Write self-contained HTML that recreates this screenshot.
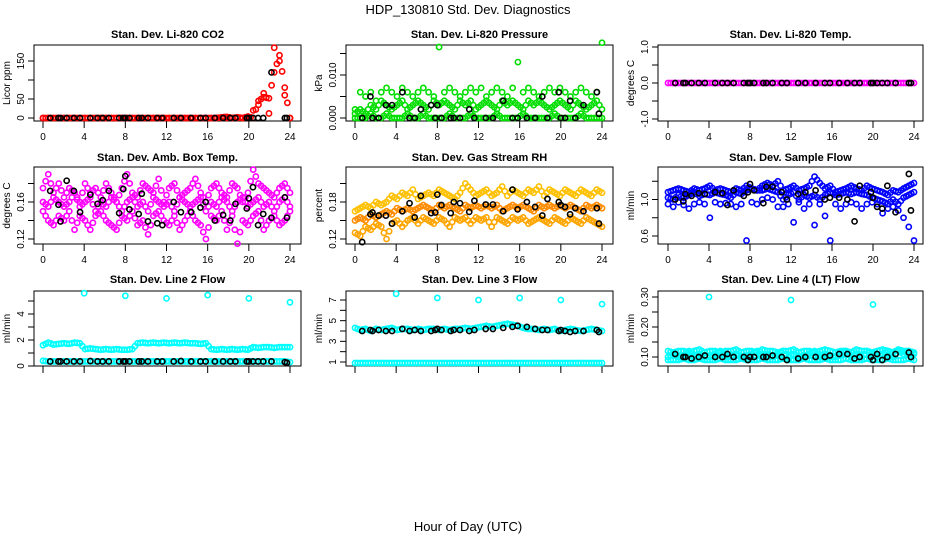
<!DOCTYPE html>
<html><head><meta charset="utf-8">
<style>
html,body{margin:0;padding:0;background:#fff;}
svg{display:block;font-family:"Liberation Sans",sans-serif;}
</style></head>
<body>
<svg id="chart" width="936" height="540" xmlns="http://www.w3.org/2000/svg">
<text x="468" y="14" text-anchor="middle" font-size="13">HDP_130810  Std. Dev. Diagnostics</text>
<text x="468" y="531" text-anchor="middle" font-size="13">Hour of Day (UTC)</text>
</svg>
<script>
// ---- data ----
const xTicks = [0,4,8,12,16,20,24];
const blackHours = [0.7,1.5,1.7,2.3,3,3.6,4.6,5.3,5.8,6.4,7.4,7.8,8,8.4,9.3,9.6,10.2,11.1,11.6,12.7,13.4,14.4,15.3,15.8,16.7,17.5,18.2,18.7,19.8,20,20.4,20.9,21.4,22.2,23.5,23.7];

// Panel 1 CO2
const co2Red = [0,0,0,0,0,0,0,0,0,0,0,0,0,0,0,0,0,0,0,0,0,0,0,0,0,0,0,0,0,0,0,0,0,0,2,3,0,2,0,4,0,45,55,52,120,165,80,0];
const co2RedB = [0,0,0,0,0,0,0,0,0,0,0,0,0,0,0,0,0,0,0,0,0,0,0,0,0,0,0,0,0,0,0,0,0,0,0,0,0,0,0,0,20,35,65,12,185,150,60,0];
const co2Black = [0,0,0,0,0,0,0,0,0,0,0,0,0,0,0,0,0,0,0,0,0,0,0,0,0,0,0,0,0,0,0,0,0,120,0,0];
// Panel 2 Pressure
const presHi = [0.002,0.006,0.005,0.006,0.004,0.006,0.007,0.006,0.005,0.007,0.006,0.005,0.006,0.007,0.006,0.005,0.0165,0.006,0.007,0.006,0.005,0.006,0.007,0.006,0.007,0.005,0.006,0.007,0.006,0.005,0.007,0.013,0.006,0.007,0.006,0.005,0.006,0.007,0.006,0.007,0.006,0.005,0.006,0.007,0.006,0.005,0.006,0.0175];
const presMid = [0.001,0.002,0.001,0.003,0.002,0.004,0.003,0.002,0.003,0.004,0.002,0.003,0.004,0.003,0.002,0.004,0.003,0.004,0.003,0.002,0.004,0.003,0.004,0.002,0.003,0.004,0.003,0.002,0.004,0.003,0.004,0.003,0.002,0.004,0.003,0.004,0.003,0.002,0.003,0.004,0.003,0.002,0.004,0.003,0.002,0.003,0.004,0.002];
const presLo = [0,0,0,0.001,0,0,0.001,0,0,0,0.001,0,0,0.001,0,0,0,0,0.001,0,0,0,0.001,0,0,0,0,0.001,0,0,0,0,0.001,0,0,0,0,0,0.001,0,0,0,0,0.001,0,0,0,0];
const presBlack = [0,0.005,0,0,0.003,0.003,0.006,0,0,0.002,0.003,0,0.003,0,0,0,0,0.002,0,0,0,0.004,0,0,0,0,0.005,0,0.006,0,0,0.004,0,0.003,0.006,0.001];
// Panel 3 Temp
const tempMag = [0,0,0,0,0,0,0,0,0,0,0,0,0,0,0,0,0,0,0,0,0,0,0,0,0,0,0,0,0,0,0,0,0,0,0,0,0,0,0,0,0,0,0,0,0,0,0,0];
const tempBlack = [0,0,0,0,0,0,0,0,0,0,0,0,0,0,0,0,0,0,0,0,0,0,0,0,0,0,0,0,0,0,0,0,0,0,0,0];
// Panel 4 Amb box temp
const ambHi = [0.175,0.19,0.17,0.18,0.165,0.175,0.17,0.16,0.18,0.17,0.175,0.165,0.18,0.17,0.16,0.175,0.19,0.17,0.165,0.18,0.175,0.17,0.185,0.16,0.175,0.18,0.165,0.17,0.175,0.185,0.17,0.16,0.175,0.18,0.17,0.165,0.18,0.175,0.16,0.17,0.195,0.18,0.175,0.17,0.165,0.175,0.18,0.17];
const ambMid = [0.16,0.155,0.165,0.16,0.155,0.16,0.17,0.155,0.16,0.165,0.15,0.16,0.155,0.165,0.16,0.15,0.16,0.165,0.155,0.16,0.15,0.165,0.16,0.155,0.16,0.15,0.165,0.16,0.155,0.16,0.165,0.15,0.16,0.155,0.165,0.16,0.15,0.16,0.165,0.155,0.16,0.165,0.155,0.16,0.15,0.16,0.165,0.155];
const ambLo = [0.15,0.14,0.135,0.145,0.14,0.15,0.13,0.145,0.14,0.13,0.145,0.15,0.14,0.135,0.13,0.145,0.14,0.15,0.135,0.14,0.125,0.145,0.15,0.14,0.135,0.145,0.13,0.14,0.15,0.14,0.135,0.12,0.145,0.14,0.15,0.13,0.145,0.115,0.14,0.135,0.145,0.15,0.13,0.14,0.145,0.135,0.14,0.15];
const ambBlack = [0.172,0.157,0.139,0.183,0.172,0.149,0.168,0.158,0.162,0.172,0.148,0.174,0.188,0.152,0.147,0.169,0.139,0.137,0.135,0.16,0.149,0.149,0.154,0.16,0.14,0.146,0.14,0.158,0.153,0.164,0.176,0.135,0.147,0.143,0.165,0.143];
// Panel 5 Gas stream RH
const rhHi = [0.165,0.17,0.175,0.17,0.18,0.175,0.18,0.19,0.185,0.195,0.19,0.2,0.185,0.19,0.195,0.19,0.2,0.195,0.19,0.185,0.195,0.21,0.2,0.19,0.195,0.2,0.19,0.195,0.205,0.19,0.2,0.195,0.19,0.2,0.195,0.205,0.19,0.2,0.195,0.19,0.2,0.195,0.19,0.2,0.195,0.19,0.2,0.195];
const rhMid = [0.15,0.155,0.15,0.16,0.155,0.16,0.165,0.16,0.17,0.165,0.17,0.165,0.17,0.175,0.17,0.165,0.175,0.17,0.175,0.17,0.165,0.175,0.17,0.175,0.17,0.175,0.17,0.175,0.165,0.17,0.175,0.17,0.175,0.17,0.165,0.175,0.17,0.175,0.17,0.175,0.17,0.175,0.17,0.165,0.175,0.17,0.175,0.17];
const rhLo = [0.13,0.125,0.14,0.135,0.145,0.14,0.12,0.145,0.15,0.14,0.15,0.155,0.145,0.155,0.15,0.145,0.155,0.15,0.14,0.155,0.15,0.155,0.145,0.155,0.15,0.155,0.14,0.155,0.15,0.145,0.155,0.15,0.155,0.145,0.15,0.155,0.15,0.145,0.155,0.15,0.145,0.155,0.15,0.145,0.155,0.15,0.145,0.14];
const rhBlack = [0.115,0.16,0.163,0.158,0.158,0.145,0.165,0.178,0.155,0.19,0.162,0.163,0.192,0.175,0.162,0.18,0.178,0.164,0.182,0.176,0.176,0.165,0.2,0.168,0.18,0.172,0.158,0.185,0.18,0.175,0.172,0.16,0.17,0.165,0.17,0.145];
// Panel 6 Sample flow
const sfHi = [1.08,1.1,1.12,1.1,1.08,1.12,1.1,1.12,1.15,1.1,1.12,1.1,1.08,1.12,1.1,1.15,1.12,1.1,1.15,1.18,1.15,1.2,1.1,1.12,1.15,1.1,1.12,1.15,1.25,1.18,1.12,1.15,1.08,1.1,1.12,1.15,1.12,1.1,1.15,1.12,1.1,1.08,1.05,1.1,1.08,1.12,1.15,1.18];
const sfMid = [1.02,1.0,1.05,1.02,1.05,1.08,1.04,1.06,1.05,1.08,1.06,1.05,1.02,1.08,1.06,1.1,1.12,1.1,1.1,1.12,1.1,1.08,1.0,1.05,1.08,1.0,1.05,1.02,1.05,1.0,1.05,1.08,1.05,1.06,1.08,1.06,1.08,1.06,1.05,1.02,1.0,0.98,0.95,1.0,0.95,1.02,1.05,1.08];
const sfLo = [0.95,0.92,0.97,0.94,0.9,0.95,0.97,0.95,0.8,0.97,0.95,0.96,0.95,0.92,0.95,0.55,0.97,0.95,1.0,1.02,1.0,0.92,0.92,0.95,0.75,0.97,0.9,0.95,0.72,0.95,0.82,0.55,0.95,0.9,0.95,0.97,0.95,0.9,0.95,0.97,0.95,0.85,0.9,0.92,0.88,0.8,0.7,0.55];
const sfBlack = [1.0,0.98,1.06,1.04,1.07,1.06,1.08,1.07,0.94,1.1,1.04,1.08,1.17,1.1,0.96,1.14,1.14,1.08,1.0,1.06,1.08,1.1,1.0,1.02,1.02,1.0,0.76,1.15,1.08,1.02,0.92,0.9,1.15,0.86,1.28,0.88];
// Panel 7 Line 2 flow
const l2Band = [1.6,1.8,1.65,1.7,1.75,1.7,1.8,1.75,1.3,1.35,1.3,1.25,1.3,1.25,1.3,1.25,1.25,1.3,1.75,1.8,1.75,1.8,1.75,1.8,1.75,1.8,1.75,1.8,1.75,1.75,1.7,1.75,1.3,1.25,1.3,1.25,1.3,1.25,1.3,1.25,1.45,1.4,1.45,1.45,1.4,1.45,1.45,1.45];
const l2Low = [0.4,0.35,0.35,0.35,0.35,0.35,0.35,0.35,0.35,0.35,0.35,0.35,0.35,0.35,0.35,0.35,0.35,0.35,0.35,0.35,0.35,0.35,0.35,0.35,0.35,0.35,0.35,0.35,0.35,0.35,0.35,0.35,0.35,0.35,0.35,0.35,0.35,0.35,0.35,0.35,0.35,0.35,0.35,0.35,0.35,0.35,0.35,0.3];
const l2OutHours = [4,8,12,16,20,24];
const l2Out = [5.6,5.4,5.2,5.45,5.2,4.9];
const l2Black = [0.35,0.35,0.35,0.35,0.35,0.35,0.38,0.35,0.35,0.35,0.35,0.35,0.35,0.35,0.35,0.35,0.35,0.35,0.35,0.35,0.38,0.35,0.35,0.35,0.35,0.35,0.35,0.35,0.35,0.35,0.35,0.35,0.35,0.35,0.3,0.25];
// Panel 8 Line 3 flow
const l3Band = [4.3,4.1,4.2,4.0,4.2,4.1,4.2,4.3,4.1,4.2,4.2,4.1,4.2,4.1,4.2,4.2,4.1,4.2,4.1,4.2,4.2,4.3,4.2,4.3,4.4,4.5,4.4,4.5,4.6,4.7,4.6,4.5,4.3,4.2,4.2,4.1,4.2,4.1,4.2,4.0,4.1,4.2,4.1,4.0,4.1,4.2,4.1,4.0];
const l3Low = [0.9,0.9,0.9,0.9,0.9,0.9,0.9,0.9,0.9,0.9,0.9,0.9,0.9,0.9,0.9,0.9,0.9,0.9,0.9,0.9,0.9,0.9,0.9,0.9,0.9,0.9,0.9,0.9,0.9,0.9,0.9,0.9,0.9,0.9,0.9,0.9,0.9,0.9,0.9,0.9,0.9,0.9,0.9,0.9,0.9,0.9,0.9,0.9];
const l3Out = [7.6,7.2,7.0,7.2,7.0,6.6];
const l3Black = [4.0,4.1,4.0,4.1,4.0,4.0,4.2,4.0,4.1,4.0,4.0,4.1,4.2,4.1,4.0,4.1,4.1,4.0,4.1,4.2,4.2,4.3,4.4,4.5,4.4,4.2,4.1,4.1,4.0,4.1,4.0,3.9,4.0,4.0,4.1,3.9];
// Panel 9 Line 4 flow
const l4Band = [0.1,0.11,0.1,0.1,0.12,0.1,0.11,0.1,0.1,0.11,0.12,0.1,0.1,0.11,0.1,0.1,0.11,0.12,0.1,0.11,0.1,0.11,0.12,0.1,0.11,0.1,0.1,0.11,0.12,0.1,0.11,0.1,0.1,0.11,0.12,0.1,0.11,0.1,0.12,0.11,0.1,0.11,0.12,0.1,0.12,0.11,0.12,0.11];
const l4Low = [0.09,0.09,0.09,0.095,0.09,0.09,0.095,0.09,0.09,0.09,0.095,0.09,0.09,0.09,0.095,0.09,0.09,0.09,0.095,0.09,0.09,0.09,0.095,0.09,0.09,0.09,0.095,0.09,0.09,0.09,0.095,0.09,0.09,0.09,0.095,0.09,0.09,0.09,0.095,0.09,0.09,0.09,0.095,0.09,0.09,0.09,0.095,0.09];
const l4Top = [0.12,0.115,0.12,0.12,0.115,0.12,0.125,0.115,0.12,0.12,0.115,0.12,0.12,0.125,0.115,0.12,0.12,0.115,0.125,0.12,0.12,0.115,0.12,0.12,0.125,0.115,0.12,0.12,0.115,0.12,0.125,0.12,0.115,0.12,0.12,0.115,0.125,0.12,0.12,0.115,0.12,0.125,0.12,0.115,0.125,0.12,0.12,0.115];
const l4OutHours = [4,12,20];
const l4Out = [0.3,0.29,0.275];
const l4Black = [0.11,0.1,0.1,0.095,0.1,0.105,0.1,0.1,0.11,0.1,0.1,0.09,0.1,0.1,0.1,0.1,0.105,0.1,0.09,0.095,0.1,0.1,0.1,0.105,0.11,0.11,0.095,0.1,0.1,0.09,0.11,0.09,0.1,0.11,0.115,0.1];

// ---- drawing ----
const svg = document.getElementById('chart');
const NS = 'http://www.w3.org/2000/svg';
function mk(tag, attrs){const e=document.createElementNS(NS,tag);for(const k in attrs)e.setAttribute(k,attrs[k]);svg.appendChild(e);return e;}

const cols = [{L:34,R:301,x0:43,x24:290},{L:346,R:613,x0:355,x24:602},{L:658,R:923,x0:668,x24:914}];
const rows = [{T:45,B:121,title:38},{T:167,B:244,title:161},{T:291,B:366,title:283}];

function panel(ci, ri, name, title, ylab, v1, p1, v2, p2, ticks, labels, showX){
  const c=cols[ci], r=rows[ri];
  const xs = h => c.x0 + (c.x24-c.x0)*h/24;
  const ys = v => p1 + (v - v1)*(p2-p1)/(v2-v1);
  const g=mk('g',{});
  
  
  const t=mk('text',{x:(c.L+c.R)/2,y:r.title,'text-anchor':'middle','font-size':'11','font-weight':'bold'});
  t.textContent=title;
  
  
  const box=mk('rect',{x:c.L,y:r.T,width:c.R-c.L,height:r.B-r.T,fill:'none',stroke:'#000','stroke-width':'1'});
  
  
  xTicks.forEach(h=>{
    const x=xs(h);
    const tk=mk('line',{x1:x,x2:x,y1:r.B,y2:r.B+7,stroke:'#000'});
    
    
    if(showX){
      const lt=mk('text',{x:x,y:r.B+19,'text-anchor':'middle','font-size':'10'});
      lt.textContent=h;
      
      
    }
  });
  ticks.forEach((v,i)=>{
    const y=ys(v);
    const tk=mk('line',{x1:c.L-6,x2:c.L,y1:y,y2:y,stroke:'#000'});
    
    
    if(labels[i]!==''){
      const lt=mk('text',{x:0,y:0,'text-anchor':'middle','font-size':'10',transform:`translate(${c.L-10},${y}) rotate(-90)`});
      lt.textContent=labels[i];
      
      
    }
  });
  const yl=mk('text',{x:0,y:0,'text-anchor':'middle','font-size':'10',transform:`translate(${c.L-24},${(r.T+r.B)/2}) rotate(-90)`});
  yl.textContent=ylab;
  
  
  return {xs,ys};
}
function pts(ax, hours, vals, color, name){
  vals.forEach((v,i)=>{
    const h = hours ? hours[i] : i*24/(vals.length-1);
    const c=mk('circle',{cx:ax.xs(h),cy:ax.ys(v),r:2.6,fill:'none',stroke:color,'stroke-width':'1.6'});
    
    
  });
}
function ptsDense(ax, vals, color, name){
  vals.forEach((v,i)=>{
    const h=i*24/(vals.length-1);
    const c=mk('circle',{cx:ax.xs(h),cy:ax.ys(v),r:2.6,fill:'none',stroke:color,'stroke-width':'1.6'});
    
    
    if(i<vals.length-1){
      const c2=mk('circle',{cx:ax.xs(h+12/(vals.length-1)),cy:ax.ys((v+vals[i+1])/2),r:2.6,fill:'none',stroke:color,'stroke-width':'1.6'});
      
      
    }
  });
}

let a;
a=panel(0,0,'co2','Stan. Dev. Li-820 CO2','Licor ppm',0,118,150,61,[0,50,100,150],['0','50','','150'],true);
ptsDense(a,co2Red,'#ff0000','co2-point');
pts(a,null,co2RedB,'#ff0000','co2-point');
pts(a,blackHours,co2Black,'#000','co2-black-point');

a=panel(1,0,'pressure','Stan. Dev. Li-820 Pressure','kPa',0,118,0.010,75,[0,0.005,0.010,0.015],['0.000','','0.010',''],true);
ptsDense(a,presLo,'#00dd00','pressure-point');
ptsDense(a,presMid,'#00dd00','pressure-point');
pts(a,null,presHi,'#00dd00','pressure-point');
pts(a,blackHours,presBlack,'#000','pressure-black-point');

a=panel(2,0,'temp','Stan. Dev. Li-820 Temp.','degrees C',-1,119,1,47,[-1,-0.5,0,0.5,1],['-1.0','','0.0','','1.0'],true);
ptsDense(a,tempMag,'#ff00ff','temp-point');
pts(a,blackHours,tempBlack,'#000','temp-black-point');

a=panel(0,1,'amb','Stan. Dev. Amb. Box Temp.','degrees C',0.12,239,0.16,202,[0.12,0.14,0.16,0.18],['0.12','','0.16',''],true);
ptsDense(a,ambLo,'#ff00ff','amb-point');
ptsDense(a,ambMid,'#ff00ff','amb-point');
ptsDense(a,ambHi,'#ff00ff','amb-point');
pts(a,blackHours,ambBlack,'#000','amb-black-point');

a=panel(1,1,'rh','Stan. Dev. Gas Stream RH','percent',0.12,239,0.18,202,[0.12,0.15,0.18,0.21],['0.12','','0.18',''],true);
ptsDense(a,rhLo,'#ffa500','rh-point');
ptsDense(a,rhMid,'#ff8c00','rh-point');
ptsDense(a,rhHi,'#ffc000','rh-point');
pts(a,blackHours,rhBlack,'#000','rh-black-point');

a=panel(2,1,'sampleflow','Stan. Dev. Sample Flow','ml/min',0.6,236,1.0,199.5,[0.6,0.8,1.0,1.2],['0.6','','1.0',''],true);
pts(a,null,sfLo,'#0000ff','sample-flow-point');
ptsDense(a,sfMid,'#0000ff','sample-flow-point');
ptsDense(a,sfHi,'#0000ff','sample-flow-point');
pts(a,blackHours,sfBlack,'#000','sample-flow-black-point');

a=panel(0,2,'line2','Stan. Dev. Line 2 Flow','ml/min',0,366,4,314,[0,1,2,3,4,5],['0','','2','','4',''],false);
ptsDense(a,l2Band,'#00ffff','line2-point');
ptsDense(a,l2Low,'#00ffff','line2-point');
pts(a,l2OutHours,l2Out,'#00ffff','line2-outlier');
pts(a,blackHours,l2Black,'#000','line2-black-point');

a=panel(1,2,'line3','Stan. Dev. Line 3 Flow','ml/min',1,362,7,300,[1,2,3,4,5,6,7],['1','','3','','5','','7'],false);
ptsDense(a,l3Band,'#00ffff','line3-point');
ptsDense(a,l3Low,'#00ffff','line3-point');
pts(a,l2OutHours,l3Out,'#00ffff','line3-outlier');
pts(a,blackHours,l3Black,'#000','line3-black-point');

a=panel(2,2,'line4','Stan. Dev. Line 4 (LT) Flow','ml/min',0.1,357,0.3,297,[0.1,0.15,0.2,0.25,0.3],['0.10','','0.20','','0.30'],false);
ptsDense(a,l4Band,'#00ffff','line4-point');
ptsDense(a,l4Low,'#00ffff','line4-point');
ptsDense(a,l4Top,'#00ffff','line4-point');
pts(a,l4OutHours,l4Out,'#00ffff','line4-outlier');
pts(a,blackHours,l4Black,'#000','line4-black-point');
</script>
</body></html>
